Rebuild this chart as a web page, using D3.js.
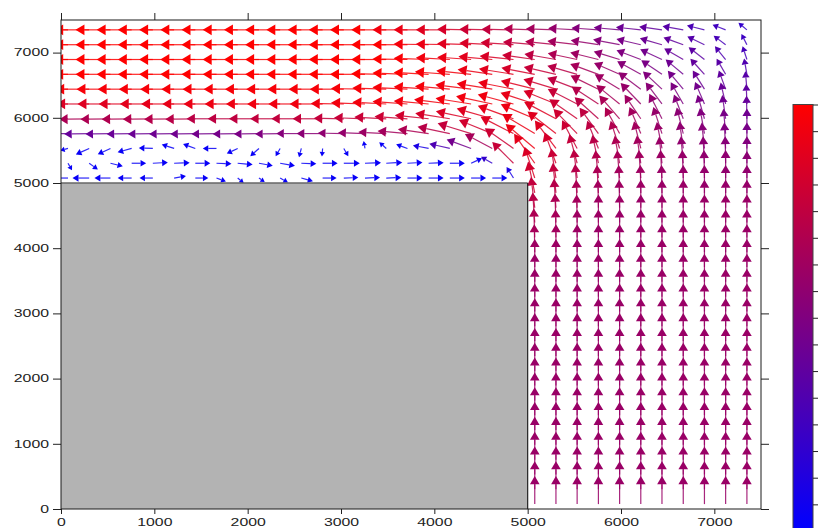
<!DOCTYPE html>
<html>
<head>
<meta charset="utf-8">
<script src="https://cdn.jsdelivr.net/npm/d3@7"></script>
<style>
  html, body { margin: 0; padding: 0; background: #fff; }
  svg { display: block; }
  .tick text { font-family: "Liberation Sans", Arial, sans-serif; font-size: 10.5px; fill: #222; }
</style>
</head>
<body>
<div id="chart"></div>
<script>
// axis ticks
const xTicks = [0, 1000, 2000, 3000, 4000, 5000, 6000, 7000];
const yTicks = [0, 1000, 2000, 3000, 4000, 5000, 6000, 7000];
const barTicks = [0, 0.0625, 0.125, 0.1875, 0.25, 0.3125, 0.375, 0.4375, 0.5,
  0.5625, 0.625, 0.6875, 0.75, 0.8125, 0.875, 0.9375, 1];

// solid block (no flow)
const block = [0, 0, 5000, 5000];

// mesh node coordinates, same for x and y
const nodes = [75, 302, 530, 757, 984, 1212, 1439, 1666, 1893, 2121, 2348, 2575, 2803,
  3030, 3257, 3485, 3712, 3939, 4166, 4394, 4621, 4848, 5076, 5303, 5530, 5758, 5985,
  6212, 6439, 6667, 6894, 7121, 7349];

// upper band: rows j = 32 (top) .. 22, columns i = 0..32
// direction in degrees (0 = +x, 90 = +y)
const bandAngle = [
  [180,180,180,180,180,180,180,180,180,180,180,180,180,180,180,180,180,180,180,179,179,179,178,178,177,176,175,174,172,170,166,159,140],
  [180,180,180,180,180,180,180,180,180,180,180,180,180,180,180,180,180,179,179,178,177,176,175,174,173,171,169,167,164,160,154,143,117],
  [180,180,180,180,180,180,180,180,180,180,180,180,180,180,180,180,179,178,177,176,175,174,172,170,168,166,163,159,155,150,142,129,108],
  [180,180,180,180,180,180,180,180,180,180,180,180,180,180,180,179,178,177,176,174,172,171,169,167,164,160,156,151,146,140,132,120,100],
  [180,180,180,180,180,180,180,180,180,180,180,180,180,180,179,178,177,176,175,173,171,169,166,163,159,154,149,143,137,130,122,110,95],
  [180,180,180,180,180,180,180,180,180,180,180,180,180,179,178,177,176,175,173,171,168,165,162,158,153,147,141,134,127,120,113,103,92],
  [181,181,181,181,181,181,181,180,180,180,180,180,180,179,178,177,176,174,171,168,164,160,157,152,145,138,131,124,117,111,106,98,91],
  [181,181,181,181,181,181,181,181,181,181,181,180,180,179,178,177,175,172,168,163,158,153,149,142,134,126,119,113,108,104,100,95,90],
  [195,204,205,195,178,162,160,180,205,222,240,255,265,300,100,138,160,169,167,160,152,145,140,127,118,112,108,104,101,98,96,93,90],
  [300,324,346,0,3,2,0,358,355,350,350,358,0,0,2,3,3,2,0,25,150,135,125,110,105,102,100,98,96,95,93,91,90],
  [180,180,180,180,180,10,0,340,320,325,330,345,0,2,2,2,0,0,0,0,0,122,108,99,97,96,95,94,93,92,91,90,90]
];
// speed, m/s
const bandSpeed = [
  [3.5,3.5,3.5,3.5,3.5,3.5,3.5,3.5,3.5,3.5,3.5,3.5,3.5,3.5,3.5,3.5,3.5,3.5,3.4,3.4,3.3,3.2,3.1,3.0,2.9,2.7,2.6,2.5,2.3,2.1,1.8,1.4,1.1],
  [3.5,3.5,3.5,3.5,3.5,3.5,3.5,3.5,3.5,3.5,3.5,3.5,3.5,3.5,3.5,3.5,3.5,3.5,3.4,3.4,3.3,3.3,3.2,3.1,3.0,2.8,2.7,2.5,2.3,2.1,1.9,1.5,1.2],
  [3.5,3.5,3.5,3.5,3.5,3.5,3.5,3.5,3.5,3.5,3.5,3.5,3.5,3.5,3.5,3.5,3.5,3.5,3.4,3.4,3.4,3.4,3.3,3.2,3.0,2.9,2.7,2.6,2.4,2.2,2.0,1.7,1.4],
  [3.5,3.5,3.5,3.5,3.5,3.5,3.5,3.5,3.5,3.5,3.5,3.5,3.5,3.5,3.5,3.5,3.5,3.5,3.5,3.5,3.5,3.5,3.4,3.3,3.1,3.0,2.8,2.7,2.5,2.3,2.1,1.8,1.6],
  [3.4,3.4,3.4,3.4,3.4,3.4,3.4,3.4,3.4,3.4,3.4,3.4,3.4,3.4,3.4,3.4,3.5,3.5,3.5,3.6,3.6,3.6,3.5,3.4,3.2,3.1,2.9,2.8,2.6,2.4,2.2,2.0,1.8],
  [3.3,3.3,3.3,3.3,3.3,3.3,3.3,3.3,3.3,3.3,3.3,3.3,3.3,3.3,3.4,3.4,3.5,3.5,3.6,3.6,3.7,3.7,3.6,3.5,3.3,3.2,3.0,2.9,2.7,2.5,2.4,2.2,2.0],
  [3.0,3.0,3.0,3.0,3.0,3.0,3.0,3.0,3.0,3.0,3.0,3.0,3.0,3.0,3.1,3.2,3.3,3.4,3.5,3.6,3.7,3.8,3.7,3.6,3.4,3.2,3.1,2.9,2.8,2.6,2.5,2.4,2.3],
  [2.5,2.5,2.5,2.5,2.5,2.5,2.5,2.5,2.5,2.5,2.5,2.5,2.6,2.6,2.7,2.8,3.0,3.1,3.3,3.5,3.6,3.7,3.8,3.6,3.4,3.2,3.0,2.9,2.8,2.7,2.6,2.5,2.5],
  [0.8,1.46,1.4,1.45,1.4,1.3,1.3,1.37,1.2,1.16,0.9,0.9,0.8,0.9,0.75,0.94,1.2,1.6,2.1,2.6,3.1,3.5,3.8,3.5,3.2,3.0,2.9,2.8,2.7,2.7,2.6,2.6,2.6],
  [0.8,1.07,1.27,1.45,1.5,1.55,1.5,1.5,1.5,1.4,1.5,1.5,1.5,1.6,1.6,1.6,1.5,1.5,1.5,1.2,1.3,3.0,3.6,3.3,3.0,2.9,2.8,2.8,2.7,2.7,2.7,2.7,2.7],
  [1.4,1.67,1.6,1.4,1.33,1.2,1.3,1.0,0.8,0.7,0.9,1.2,1.4,1.45,1.5,1.5,1.5,1.5,1.5,1.5,1.5,1.3,3.3,3.0,2.9,2.8,2.8,2.8,2.8,2.8,2.8,2.8,2.7]
];
// colour level on the bar, 0 (blue) .. 1 (red)
const bandLevel = [
  [1,1,1,1,1,1,1,1,1,1,1,1,1,1,1,1,.95,.92,.88,.84,.80,.76,.70,.64,.58,.52,.47,.42,.38,.34,.29,.25,.20],
  [1,1,1,1,1,1,1,1,1,1,1,1,1,1,1,1,1,.96,.92,.88,.85,.81,.76,.70,.64,.58,.52,.47,.42,.38,.33,.28,.24],
  [1,1,1,1,1,1,1,1,1,1,1,1,1,1,1,1,1,.98,.95,.92,.89,.85,.80,.74,.68,.62,.56,.50,.45,.40,.36,.31,.27],
  [1,1,1,1,1,1,1,1,1,1,1,1,1,1,1,1,1,1,.97,.95,.92,.89,.84,.78,.72,.65,.59,.53,.48,.43,.39,.35,.31],
  [.97,.97,.97,.97,.97,.97,.97,.97,.97,.97,.97,.97,.97,.97,.97,.97,.97,.97,.96,.95,.94,.92,.88,.82,.75,.68,.62,.56,.51,.46,.42,.38,.34],
  [.85,.86,.87,.88,.89,.90,.91,.92,.93,.93,.94,.94,.94,.94,.95,.95,.95,.95,.95,.95,.95,.94,.91,.85,.78,.71,.65,.59,.54,.49,.45,.41,.37],
  [.66,.67,.68,.69,.70,.71,.72,.73,.74,.75,.76,.76,.77,.77,.78,.79,.80,.82,.84,.86,.88,.90,.93,.87,.80,.73,.67,.62,.57,.52,.48,.44,.40],
  [.40,.40,.41,.41,.42,.43,.44,.45,.46,.48,.50,.52,.54,.56,.58,.61,.64,.68,.72,.77,.82,.87,.92,.88,.81,.75,.69,.64,.59,.55,.51,.47,.44],
  [.03,.03,.03,.03,.03,.03,.03,.03,.03,.03,.03,.03,.03,.03,.03,.03,.03,.10,.30,.45,.65,.80,.93,.87,.80,.74,.69,.64,.60,.56,.53,.50,.47],
  [.03,.03,.03,.03,.03,.03,.03,.03,.03,.03,.03,.03,.03,.03,.03,.03,.03,.03,.03,.05,.20,.78,.90,.83,.77,.72,.68,.64,.60,.57,.55,.53,.51],
  [.03,.03,.03,.03,.03,.03,.03,.03,.03,.03,.03,.03,.03,.03,.03,.03,.03,.03,.03,.03,.03,.10,.86,.79,.74,.70,.66,.63,.61,.59,.57,.56,.55]
];

// vertical channel near its exit: rows j = 21 .. 16, columns i = 22..32
const channelAngle = [
  [102,96,94,93,92,91,91,90,90,90,90],
  [97,94,92,91,91,90,90,90,90,90,90],
  [94,92,91,90,90,90,90,90,90,90,90],
  [92,91,90,90,90,90,90,90,90,90,90],
  [91,90,90,90,90,90,90,90,90,90,90],
  [90,90,90,90,90,90,90,90,90,90,90]
];
const channelSpeed = [
  [3.2,3.0,2.9,2.8,2.8,2.8,2.8,2.8,2.8,2.8,2.8],
  [3.1,2.9,2.8,2.8,2.8,2.8,2.8,2.8,2.8,2.8,2.8],
  [3.0,2.9,2.8,2.8,2.8,2.8,2.8,2.8,2.8,2.8,2.8],
  [2.9,2.8,2.8,2.8,2.8,2.8,2.8,2.8,2.8,2.8,2.8],
  [2.8,2.8,2.8,2.8,2.8,2.8,2.8,2.8,2.8,2.8,2.8],
  [2.8,2.8,2.8,2.8,2.8,2.8,2.8,2.8,2.8,2.8,2.8]
];
const channelLevel = [
  [.82,.76,.71,.67,.64,.62,.60,.59,.58,.57,.57],
  [.76,.71,.67,.64,.62,.61,.60,.60,.59,.59,.59],
  [.72,.67,.64,.62,.61,.60,.60,.60,.60,.60,.60],
  [.68,.65,.62,.61,.60,.60,.60,.60,.60,.60,.60],
  [.65,.63,.61,.60,.60,.60,.60,.60,.60,.60,.60],
  [.62,.61,.60,.60,.60,.60,.60,.60,.60,.60,.60]
];
// developed flow, rows j = 15 .. 0 all read the same
const developedAngle = [90,90,90,90,90,90,90,90,90,90,90];
const developedSpeed = [2.8,2.8,2.8,2.8,2.8,2.8,2.8,2.8,2.8,2.8,2.8];
const developedLevel = [.60,.60,.60,.60,.60,.60,.60,.60,.60,.60,.60];

const W = 821, H = 528;
const x = d3.scaleLinear().domain([0, 7500]).range([61, 761]);
const y = d3.scaleLinear().domain([0, 7500]).range([509, 20]);
const len = d3.scaleLinear().domain([0, 1]).range([0, 10]);
const color = d3.scaleLinear().domain([0, 1]).range(['#0000ff', '#ff0000']).clamp(true);

// flatten into one list of vectors
const vectors = [];
bandAngle.forEach((row, r) => row.forEach((a, i) => {
  vectors.push({ i, j: 32 - r, a, s: bandSpeed[r][i], c: bandLevel[r][i] });
}));
channelAngle.forEach((row, r) => row.forEach((a, k) => {
  vectors.push({ i: 22 + k, j: 21 - r, a, s: channelSpeed[r][k], c: channelLevel[r][k] });
}));
for (let j = 15; j >= 0; j--) {
  developedAngle.forEach((a, k) => {
    vectors.push({ i: 22 + k, j, a, s: developedSpeed[k], c: developedLevel[k] });
  });
}

const svg = d3.select('#chart').append('svg')
  .attr('width', W)
  .attr('height', H);

svg.append('defs').append('clipPath')
  .attr('id', 'plotClip')
  .append('rect')
  .attr('x', x(0)).attr('y', y(7500))
  .attr('width', x(7500) - x(0))
  .attr('height', y(0) - y(7500));

// arrows
const field = svg.append('g').attr('clip-path', 'url(#plotClip)');

field.selectAll('g.vec')
  .data(vectors)
  .join('g')
  .attr('class', 'vec')
  .each(function (d) {
    const g = d3.select(this);
    const x0 = x(nodes[d.i]), y0 = y(nodes[d.j]);
    const L = len(d.s);
    const rad = d.a * Math.PI / 180;
    const ux = Math.cos(rad), uy = -Math.sin(rad);
    const x1 = x0 + L * ux, y1 = y0 + L * uy;
    const hl = Math.min(9, 3 + 0.18 * L);
    const hw = hl * 0.6;
    const bx = x1 - hl * ux, by = y1 - hl * uy;
    const col = color(d.c);

    g.append('line')
      .attr('x1', x0).attr('y1', y0)
      .attr('x2', bx).attr('y2', by)
      .attr('stroke', col)
      .attr('stroke-width', 1.2)
      .attr('stroke-opacity', 0.85);

    g.append('path')
      .attr('d', `M${x1},${y1}L${bx - hw * uy},${by + hw * ux}L${bx + hw * uy},${by - hw * ux}Z`)
      .attr('fill', col);
  });

// solid block
svg.append('rect')
  .attr('x', x(block[0]))
  .attr('y', y(block[3]))
  .attr('width', x(block[2]) - x(block[0]))
  .attr('height', y(block[1]) - y(block[3]))
  .attr('fill', '#b3b3b3');
svg.append('line')
  .attr('x1', x(block[0])).attr('y1', y(block[3]))
  .attr('x2', x(block[2])).attr('y2', y(block[3]))
  .attr('stroke', '#666').attr('stroke-width', 1.5);
svg.append('line')
  .attr('x1', x(block[2])).attr('y1', y(block[3]))
  .attr('x2', x(block[2])).attr('y2', y(block[1]))
  .attr('stroke', '#222').attr('stroke-width', 1.2);

// axes
const stretch = sel => sel.selectAll('text')
  .attr('textLength', d => String(d).length * 8.8)
  .attr('lengthAdjust', 'spacingAndGlyphs');

const gx = svg.append('g')
  .attr('transform', `translate(0,${y(0)})`)
  .call(d3.axisBottom(x).tickValues(xTicks).tickSize(5).tickSizeOuter(0).tickPadding(5).tickFormat(d3.format('d')));
gx.call(stretch);

const gy = svg.append('g')
  .attr('transform', `translate(${x(0)},0)`)
  .call(d3.axisLeft(y).tickValues(yTicks).tickSize(8).tickSizeOuter(0).tickPadding(4).tickFormat(d3.format('d')));
gy.call(stretch);

svg.append('g')
  .attr('transform', `translate(0,${y(7500)})`)
  .call(d3.axisTop(x).tickValues(xTicks).tickSize(7).tickSizeOuter(0).tickFormat(''));

svg.append('g')
  .attr('transform', `translate(${x(7500)},0)`)
  .call(d3.axisRight(y).tickValues(yTicks).tickSize(8).tickSizeOuter(0).tickFormat(''));

svg.selectAll('.domain').remove();
svg.selectAll('.tick line').attr('stroke', '#222');
svg.selectAll('.tick text').style('font-weight', 500);

svg.append('rect')
  .attr('x', x(0)).attr('y', y(7500))
  .attr('width', x(7500) - x(0))
  .attr('height', y(0) - y(7500))
  .attr('fill', 'none')
  .attr('stroke', '#1a1a1a')
  .attr('stroke-width', 1);

// colour bar
const bar = d3.scaleLinear().domain([0, 1]).range([531, 104.5]);
const grad = svg.select('defs').append('linearGradient')
  .attr('id', 'barGrad')
  .attr('x1', 0).attr('y1', 1).attr('x2', 0).attr('y2', 0);
grad.append('stop').attr('offset', '0%').attr('stop-color', color(0));
grad.append('stop').attr('offset', '100%').attr('stop-color', color(1));

svg.append('rect')
  .attr('x', 793).attr('y', bar(1))
  .attr('width', 20).attr('height', bar(0) - bar(1))
  .attr('fill', 'url(#barGrad)')
  .attr('stroke', '#444')
  .attr('stroke-width', 1);

const gb = svg.append('g')
  .attr('transform', 'translate(813,0)')
  .call(d3.axisRight(bar).tickValues(barTicks).tickSize(5).tickSizeOuter(0).tickFormat(''));
gb.select('.domain').remove();
gb.selectAll('.tick line').attr('stroke', '#222');
</script>
</body>
</html>
